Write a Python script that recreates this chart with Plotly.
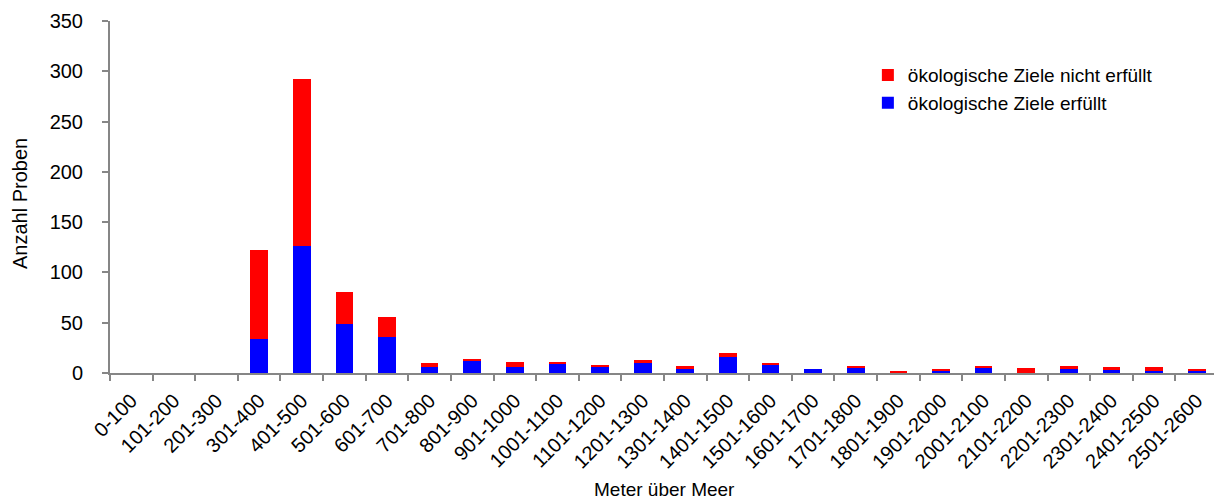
import plotly.graph_objects as go

categories = ['0-100', '101-200', '201-300', '301-400', '401-500', '501-600', '601-700',
              '701-800', '801-900', '901-1000', '1001-1100', '1101-1200', '1201-1300',
              '1301-1400', '1401-1500', '1501-1600', '1601-1700', '1701-1800', '1801-1900',
              '1901-2000', '2001-2100', '2101-2200', '2201-2300', '2301-2400', '2401-2500',
              '2501-2600']
erfuellt = [0, 0, 0, 34, 126, 49, 36, 6, 12, 6, 9, 6, 10, 4, 16, 8, 4, 5, 0, 2, 5, 0, 4, 3, 2, 2]
nicht_erfuellt = [0, 0, 0, 88, 166, 32, 20, 4, 2, 5, 2, 1, 3, 3, 4, 2, 0, 2, 2, 2, 2, 5, 3, 3, 4, 2]
x_title = "Meter über Meer"
y_title = "Anzahl Proben"

FONT = "Liberation Sans, Arial, sans-serif"
AX = "#868686"

fig = go.Figure()
fig.add_trace(go.Bar(x=categories, y=erfuellt, name="ökologische Ziele erfüllt",
                     marker=dict(color="#0000FF", line=dict(width=0))))
fig.add_trace(go.Bar(x=categories, y=nicht_erfuellt, name="ökologische Ziele nicht erfüllt",
                     marker=dict(color="#FF0000", line=dict(width=0))))

# page body has an 8px default margin, so the figure is sized/offset to compensate
fig.update_layout(
    width=1214, height=496,
    barmode="stack", bargap=0.585,
    plot_bgcolor="white", paper_bgcolor="white",
    font=dict(family=FONT, size=20, color="black"),
    margin=dict(l=102, r=4, t=13, b=131),
    legend=dict(x=0.684, y=0.90, xanchor="left", yanchor="top",
                traceorder="reversed", itemwidth=30, tracegroupgap=0,
                bgcolor="rgba(0,0,0,0)", font=dict(size=19)),
    xaxis=dict(
        showline=True, linecolor=AX, linewidth=2,
        ticks="outside", tickson="boundaries", ticklen=6, tickcolor=AX, tickwidth=2,
        tickangle=-45, showgrid=False, ticklabelstandoff=6,
        tickfont=dict(size=20), automargin=False,
    ),
    yaxis=dict(
        range=[0, 350], dtick=50,
        showline=True, linecolor=AX, linewidth=2,
        ticks="outside", ticklen=6, tickcolor=AX, tickwidth=2,
        showgrid=False, zeroline=False, ticklabelstandoff=15,
        tickfont=dict(size=20), automargin=False,
    ),
    annotations=[
        dict(text=x_title, xref="paper", yref="paper", x=0.5, y=-0.366,
             xanchor="center", yanchor="bottom", showarrow=False, font=dict(size=19)),
        dict(text=y_title, xref="paper", yref="paper", x=-0.0812, y=0.48,
             xanchor="center", yanchor="middle", textangle=-90, showarrow=False,
             font=dict(size=20)),
    ],
)

fig.write_html("out.html")
